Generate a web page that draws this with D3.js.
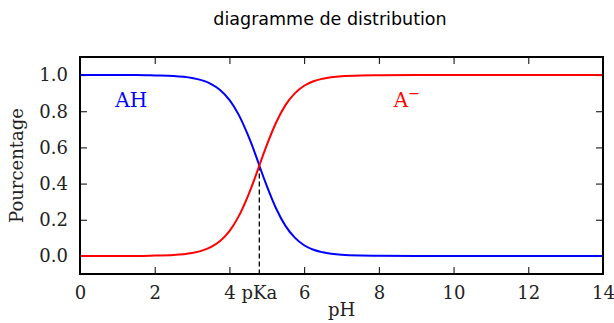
<!DOCTYPE html>
<html>
<head>
<meta charset="utf-8">
<script src="https://cdn.jsdelivr.net/npm/d3@7"></script>
<style>
  body { margin: 0; background: #fff; }
  svg text.serif { font-family: "DejaVu Serif", serif; }
</style>
</head>
<body>
<svg width="614" height="323"></svg>
<script>
// values
const ph_values = [0, 0.5, 1, 1.5, 2, 2.5, 3, 3.25, 3.5, 3.75, 4, 4.25, 4.5, 4.75, 4.8,
  5, 5.25, 5.5, 5.75, 6, 6.25, 6.5, 7, 7.5, 8, 9, 10, 11, 12, 13, 14];
const ah_values = [1.0, 1.0, 1.0, 1.0, 0.998, 0.995, 0.984, 0.972, 0.952, 0.918, 0.863,
  0.78, 0.666, 0.53, 0.5, 0.387, 0.262, 0.166, 0.101, 0.059, 0.034, 0.02, 0.006, 0.002,
  0.001, 0.0, 0.0, 0.0, 0.0, 0.0, 0.0];
const a_values = [0.0, 0.0, 0.0, 0.0, 0.002, 0.005, 0.016, 0.028, 0.048, 0.082, 0.137,
  0.22, 0.334, 0.47, 0.5, 0.613, 0.738, 0.834, 0.899, 0.941, 0.966, 0.98, 0.994, 0.998,
  0.999, 1.0, 1.0, 1.0, 1.0, 1.0, 1.0];
const x_ticks = [0, 2, 4, 6, 8, 10, 12, 14];
const y_ticks = [0.0, 0.2, 0.4, 0.6, 0.8, 1.0];
const PKA = 4.8;

const LEFT = 80, RIGHT = 603, TOP = 57, BOTTOM = 274;
const TICK_LEN = 7;

var svg = d3.select("svg");

var x_scale = d3.scaleLinear().domain([0, 14]).range([LEFT, RIGHT]);
var y_scale = d3.scaleLinear().domain([-0.1, 1.1]).range([BOTTOM, TOP]);

svg.append("text")
  .attr("x", 330).attr("y", 25)
  .attr("text-anchor", "middle")
  .style("font-family", "DejaVu Sans, sans-serif")
  .style("font-size", "17.5px")
  .text("diagramme de distribution");

// axes (inward ticks on every side)
function style_axis(g, labels) {
  g.select(".domain").remove();
  g.selectAll(".tick line").attr("stroke", "#000").attr("stroke-width", 1);
  if (labels) {
    g.selectAll(".tick text")
      .attr("class", "serif")
      .style("font-size", "18px")
      .attr("fill", "#222");
  } else {
    g.selectAll(".tick text").remove();
  }
}

var xAxis = d3.axisBottom(x_scale).tickValues(x_ticks).tickFormat(d3.format("d"))
  .tickSizeInner(-TICK_LEN).tickSizeOuter(0).tickPadding(12);
svg.append("g").attr("transform", "translate(0," + BOTTOM + ")")
  .call(xAxis).call((g) => style_axis(g, true));

var xAxisTop = d3.axisTop(x_scale).tickValues(x_ticks)
  .tickSizeInner(-TICK_LEN).tickSizeOuter(0);
svg.append("g").attr("transform", "translate(0," + TOP + ")")
  .call(xAxisTop).call((g) => style_axis(g, false));

var yAxis = d3.axisLeft(y_scale).tickValues(y_ticks).tickFormat(d3.format(".1f"))
  .tickSizeInner(-TICK_LEN).tickSizeOuter(0).tickPadding(12);
svg.append("g").attr("transform", "translate(" + LEFT + ",0)")
  .call(yAxis).call((g) => style_axis(g, true));

var yAxisRight = d3.axisRight(y_scale).tickValues(y_ticks)
  .tickSizeInner(-TICK_LEN).tickSizeOuter(0);
svg.append("g").attr("transform", "translate(" + RIGHT + ",0)")
  .call(yAxisRight).call((g) => style_axis(g, false));

// pKa marker
svg.append("line")
  .attr("x1", x_scale(PKA)).attr("x2", x_scale(PKA))
  .attr("y1", y_scale(0.5)).attr("y2", BOTTOM)
  .attr("stroke", "#000").attr("stroke-width", 1.3)
  .attr("stroke-dasharray", "5,3");

svg.append("text").attr("class", "serif")
  .attr("x", x_scale(PKA)).attr("y", BOTTOM + 25)
  .attr("text-anchor", "middle")
  .style("font-size", "18px").attr("fill", "#222")
  .text("pKa");

// curves
var line = d3.line()
  .x((d) => x_scale(d[0]))
  .y((d) => y_scale(d[1]))
  .curve(d3.curveMonotoneX);

svg.append("path")
  .datum(ph_values.map((p, i) => [p, ah_values[i]]))
  .attr("d", line).attr("fill", "none")
  .attr("stroke", "#0000ff").attr("stroke-width", 2);

svg.append("path")
  .datum(ph_values.map((p, i) => [p, a_values[i]]))
  .attr("d", line).attr("fill", "none")
  .attr("stroke", "#ff0000").attr("stroke-width", 2);

// frame
svg.append("rect")
  .attr("x", LEFT).attr("y", TOP)
  .attr("width", RIGHT - LEFT).attr("height", BOTTOM - TOP)
  .attr("fill", "none").attr("stroke", "#000").attr("stroke-width", 2);

// species labels
svg.append("text").attr("class", "serif")
  .attr("x", x_scale(1.37)).attr("y", y_scale(0.8) - 4)
  .attr("text-anchor", "middle")
  .style("font-size", "20px").attr("fill", "#0000ff")
  .text("AH");

var a_label = svg.append("text").attr("class", "serif")
  .attr("x", x_scale(8.4)).attr("y", y_scale(0.8) - 4)
  .attr("text-anchor", "start")
  .style("font-size", "20px").attr("fill", "#ff0000");
a_label.append("tspan").text("A");
a_label.append("tspan").attr("dy", -9).style("font-size", "14px").text("\u2212");

// axis titles
svg.append("text").attr("class", "serif")
  .attr("x", (LEFT + RIGHT) / 2).attr("y", 316)
  .attr("text-anchor", "middle")
  .style("font-size", "18px").attr("fill", "#222")
  .text("pH");

svg.append("text").attr("class", "serif")
  .attr("transform", "translate(23," + (TOP + BOTTOM) / 2 + ") rotate(-90)")
  .attr("text-anchor", "middle")
  .style("font-size", "18px").attr("fill", "#222")
  .text("Pourcentage");
</script>
</body>
</html>
